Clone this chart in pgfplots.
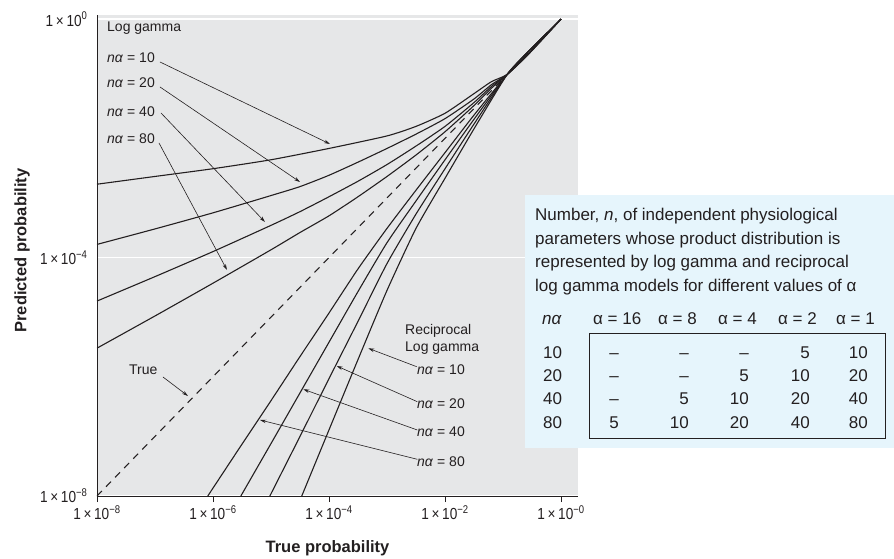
\documentclass[border=0pt]{standalone}
\usepackage{fontspec}
\setmainfont{Liberation Sans}
\newfontfamily\condfont[FakeStretch=0.85]{Liberation Sans}
\usepackage{pgfplots}
\pgfplotsset{compat=1.18}
\usetikzlibrary{arrows.meta}
\definecolor{plotgray}{RGB}{230,231,232}
\definecolor{boxblue}{RGB}{230,245,252}
\definecolor{ink}{RGB}{35,31,32}
\newcommand\fa{\fontsize{14}{16}\selectfont}
\newcommand\fb{\fontsize{17}{20}\selectfont}
\newcommand\tl[1]{{\condfont\fontsize{16}{18}\selectfont 1\,×\,10\textsuperscript{#1}}}
\begin{document}
\begin{tikzpicture}
\path[use as bounding box] (0,0) rectangle (894pt,559pt);
\begin{axis}[
  at={(97pt,63pt)}, anchor=south west, scale only axis,
  width=481pt, height=481pt,
  xmode=log, ymode=log,
  xmin=1e-8, xmax=1.96, ymin=1e-8, ymax=1.17,
  axis x line*=bottom, axis y line*=left,
  axis line style={ink, line width=0.9pt},
  axis background/.style={fill=plotgray},
  xtick={1e-8,1e-6,1e-4,1e-2,1},
  xticklabels={\tl{−8},\tl{−6},\tl{−4},\tl{−2},\tl{−0}},
  ytick={1e-8,1e-4,1},
  yticklabels={\tl{−8},\tl{−4},\tl{0}},
  xminorticks=false, yminorticks=false,
  tick align=outside, major tick length=6pt,
  x tick style={ink, line width=0.8pt},
  y tick style={draw=none},
  ymajorgrids, grid style={white, line width=1.2pt},
  tick label style={text=ink},
  curve/.style={ink, line width=1.1pt, smooth, tension=0.35, mark=none, solid},
]
% Log gamma, n alpha = 10
\addplot[curve] coordinates {(1e-8,1.698e-3) (1e-7,2.291e-3) (1e-6,3.090e-3) (1e-5,4.365e-3) (1e-4,6.761e-3) (1e-3,1.096e-2) (3.162e-3,1.585e-2) (1e-2,2.630e-2) (3.162e-2,5.623e-2) (0.0631,8.913e-2) (0.1175,0.1175) (0.2512,0.2344) (0.5012,0.4786) (1,1)};
% Log gamma, n alpha = 20
\addplot[curve] coordinates {(1e-8,1.660e-4) (1e-7,3.020e-4) (1e-6,5.623e-4) (1e-5,1.096e-3) (3.162e-5,1.549e-3) (1e-4,2.399e-3) (3.162e-4,3.981e-3) (1e-3,6.761e-3) (3.162e-3,1.175e-2) (1e-2,2.138e-2) (3.162e-2,4.571e-2) (0.0631,7.943e-2) (0.1175,0.1175) (0.2512,0.2399) (0.5012,0.4898) (1,1)};
% Log gamma, n alpha = 40
\addplot[curve] coordinates {(1e-8,1.862e-5) (1e-7,4.786e-5) (1e-6,1.259e-4) (1e-5,3.467e-4) (3.162e-5,5.888e-4) (1e-4,1.047e-3) (3.162e-4,1.905e-3) (1e-3,3.631e-3) (3.162e-3,7.413e-3) (1e-2,1.585e-2) (3.162e-2,3.981e-2) (0.0631,7.413e-2) (0.1175,0.1175) (0.2512,0.2399) (0.5012,0.4898) (1,1)};
% Log gamma, n alpha = 80
\addplot[curve] coordinates {(1e-8,3.020e-6) (1e-7,1.047e-5) (1e-6,3.715e-5) (1e-5,1.349e-4) (3.162e-5,2.630e-4) (1e-4,5.012e-4) (3.162e-4,1.047e-3) (1e-3,2.291e-3) (3.162e-3,5.248e-3) (1e-2,1.288e-2) (3.162e-2,3.548e-2) (0.0631,6.918e-2) (0.1175,0.1175) (0.2512,0.2399) (0.5012,0.4898) (1,1)};
% True
\addplot[ink, line width=1.1pt, dash pattern=on 7pt off 6pt, mark=none] coordinates {(1e-8,1e-8) (1,1)};
% Reciprocal log gamma, n alpha = 10
\addplot[curve] coordinates {(3.388e-5,1e-8) (1e-4,1.288e-7) (3.162e-4,1.950e-6) (1e-3,2.818e-5) (3.162e-3,3.090e-4) (1e-2,2.138e-3) (3.162e-2,1.445e-2) (0.1175,0.1175) (0.2512,0.2630) (0.5012,0.5129) (1,1)};
% Reciprocal log gamma, n alpha = 20
\addplot[curve] coordinates {(9.550e-6,1e-8) (3.162e-5,1e-7) (1e-4,9.333e-7) (3.162e-4,8.511e-6) (1e-3,7.943e-5) (3.162e-3,5.370e-4) (1e-2,3.090e-3) (3.162e-2,1.738e-2) (0.1175,0.1175) (0.2512,0.2630) (0.5012,0.5129) (1,1)};
% Reciprocal log gamma, n alpha = 40
\addplot[curve] coordinates {(3.020e-6,1e-8) (1e-5,7.586e-8) (3.162e-5,5.370e-7) (1e-4,3.802e-6) (3.162e-4,2.692e-5) (1e-3,1.778e-4) (3.162e-3,8.913e-4) (1e-2,4.365e-3) (3.162e-2,2.089e-2) (0.1175,0.1175) (0.2512,0.2630) (0.5012,0.5129) (1,1)};
% Reciprocal log gamma, n alpha = 80
\addplot[curve] coordinates {(8.128e-7,1e-8) (3.162e-6,7.413e-8) (1e-5,3.981e-7) (3.162e-5,2.188e-6) (1e-4,1.175e-5) (3.162e-4,6.457e-5) (1e-3,3.090e-4) (3.162e-3,1.349e-3) (1e-2,5.754e-3) (3.162e-2,2.455e-2) (0.1175,0.1175) (0.2512,0.2630) (0.5012,0.5129) (1,1)};
\end{axis}
\begin{scope}[x=1pt, y=-1pt, yshift=559pt, every node/.style={inner sep=0pt, text=ink}]
  % axis titles
  \node[rotate=90, font=\fontsize{16.5}{18}\selectfont\bfseries] at (22,250.5) {Predicted probability};
  \node[font=\fontsize{16.5}{18}\selectfont\bfseries] at (327.5,548) {True probability};
  % log gamma labels
  \node[anchor=base west, font=\fa] at (107,31.7) {Log gamma};
  \node[anchor=base west, font=\fa] at (107,62.3) {\textit{nα} = 10};
  \node[anchor=base west, font=\fa] at (107,87.3) {\textit{nα} = 20};
  \node[anchor=base west, font=\fa] at (107,116.7) {\textit{nα} = 40};
  \node[anchor=base west, font=\fa] at (107,144) {\textit{nα} = 80};
  \begin{scope}[ink, line width=0.6pt, -{Stealth[length=6pt,width=3.5pt]}]
    \draw (160,62) -- (330,144);
    \draw (160,87) -- (300,182);
    \draw (161,113) -- (265,222);
    \draw (159,143) -- (227,270);
    \draw (163,377) -- (188,396);
    \draw (416.7,366.7) -- (368.3,348.3);
    \draw (417.3,401.7) -- (336.7,366);
    \draw (417.3,430) -- (303.3,389.3);
    \draw (417.3,459.3) -- (260,420);
  \end{scope}
  \node[anchor=base west, font=\fa] at (129,374.3) {True};
  \node[anchor=base west, font=\fa] at (405,335) {Reciprocal};
  \node[anchor=base west, font=\fa] at (405,351.7) {Log gamma};
  \node[anchor=base west, font=\fa] at (417,374.3) {\textit{nα} = 10};
  \node[anchor=base west, font=\fa] at (417,408.3) {\textit{nα} = 20};
  \node[anchor=base west, font=\fa] at (417,436.7) {\textit{nα} = 40};
  \node[anchor=base west, font=\fa] at (417,466.7) {\textit{nα} = 80};
  % table panel
  \fill[boxblue] (525,195) rectangle (894,448);
  \draw[ink, line width=1pt] (589,334) rectangle (885,439);
  \node[anchor=base west, font=\fb] at (535,221) {Number, \textit{n}, of independent physiological};
  \node[anchor=base west, font=\fb] at (535,244.5) {parameters whose product distribution is};
  \node[anchor=base west, font=\fb] at (535,268) {represented by log gamma and reciprocal};
  \node[anchor=base west, font=\fb] at (535,291.5) {log gamma models for different values of α};
  \node[anchor=base west, font=\fb] at (542,325) {\textit{nα}};
  \node[anchor=base west, font=\fb] at (593,325) {α = 16};
  \node[anchor=base west, font=\fb] at (658,325) {α = 8};
  \node[anchor=base west, font=\fb] at (718,325) {α = 4};
  \node[anchor=base west, font=\fb] at (778,325) {α = 2};
  \node[anchor=base west, font=\fb] at (836,325) {α = 1};
  \foreach \y/\r/\a/\b/\c/\d/\e in {358.3/10/–/–/–/5/10, 381.7/20/–/–/5/10/20, 405/40/–/5/10/20/40, 428.3/80/5/10/20/40/80}{
    \node[anchor=base west, font=\fb] at (543,\y) {\r};
    \node[anchor=base east, font=\fb] at (619,\y) {\a};
    \node[anchor=base east, font=\fb] at (689,\y) {\b};
    \node[anchor=base east, font=\fb] at (749,\y) {\c};
    \node[anchor=base east, font=\fb] at (810,\y) {\d};
    \node[anchor=base east, font=\fb] at (868,\y) {\e};
  }
\end{scope}
\end{tikzpicture}
\end{document}
